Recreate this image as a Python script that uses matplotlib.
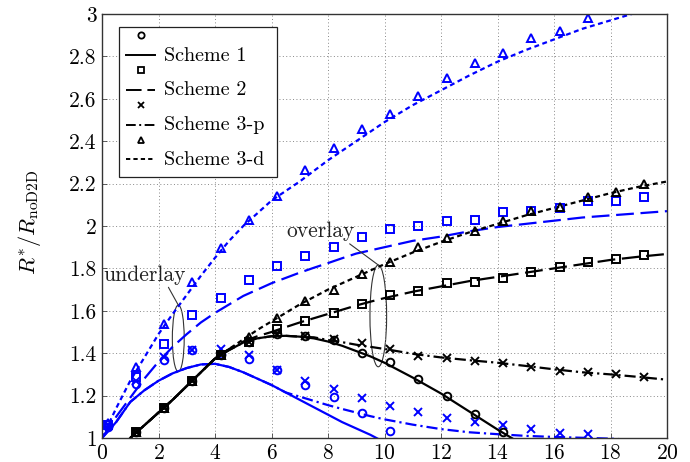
import numpy as np
import matplotlib
matplotlib.use("Agg")
import matplotlib.pyplot as plt
from matplotlib.lines import Line2D
from matplotlib.patches import Ellipse
from matplotlib.legend_handler import HandlerLine2D

plt.rcParams['font.family'] = 'serif'
plt.rcParams['font.serif'] = ['cmr10']
plt.rcParams['mathtext.fontset'] = 'cm'
plt.rcParams['axes.formatter.use_mathtext'] = True
plt.rcParams['axes.unicode_minus'] = False

nan = np.nan
BLUE = '#0000ff'

# theory curves (lines)
x_line = [0, 0.5, 1, 1.5, 2, 2.5, 3, 3.5, 4, 4.5, 5, 5.5, 6, 6.5, 7, 7.5, 8, 8.5, 9, 9.5, 10,
          11, 12, 13, 14, 15, 16, 17, 18, 19, 20]
blue_s1 = [1.0, 1.075, 1.17, 1.225, 1.27, 1.305, 1.33, 1.347, 1.35, 1.335, 1.31, 1.28, 1.25, 1.215,
           1.18, 1.145, 1.11, 1.075, 1.045, 1.015, 0.98,
           nan, nan, nan, nan, nan, nan, nan, nan, nan, nan]
blue_s2 = [1.0, 1.1, 1.19, 1.28, 1.36, 1.43, 1.49, 1.545, 1.59, 1.63, 1.67, 1.70, 1.73, 1.755,
           1.78, 1.803, 1.825, 1.848, 1.87, 1.885, 1.90,
           1.93, 1.95, 1.975, 1.995, 2.01, 2.025, 2.04, 2.05, 2.06, 2.07]
blue_s3p = [1.0, 1.075, 1.17, 1.225, 1.27, 1.305, 1.33, 1.347, 1.35, 1.335, 1.31, 1.28, 1.25, 1.215,
            1.195, 1.175, 1.155, 1.137, 1.12, 1.103, 1.088,
            1.063, 1.042, 1.027, 1.018, 1.01, 1.005, 1.001, 0.997, 0.99, 0.98]
blue_s3d = [1.0, 1.14, 1.27, 1.38, 1.49, 1.585, 1.675, 1.765, 1.85, 1.93, 2.0, 2.06, 2.12, 2.165,
            2.21, 2.26, 2.31, 2.355, 2.40, 2.445, 2.49,
            2.57, 2.64, 2.71, 2.775, 2.83, 2.88, 2.93, 2.97, 3.01, 3.05]
black_s1 = [nan, nan, 1.0, 1.06, 1.12, 1.18, 1.245, 1.31, 1.375, 1.415, 1.45, 1.47, 1.48, 1.482,
            1.478, 1.47, 1.455, 1.435, 1.41, 1.385, 1.355,
            1.285, 1.21, 1.125, 1.04, 0.96, nan, nan, nan, nan, nan]
black_s2 = [nan, nan, 1.0, 1.06, 1.12, 1.18, 1.245, 1.31, 1.375, 1.42, 1.455, 1.48, 1.50, 1.523,
            1.545, 1.565, 1.585, 1.605, 1.625, 1.643, 1.66,
            1.69, 1.715, 1.74, 1.76, 1.78, 1.80, 1.82, 1.84, 1.855, 1.868]
black_s3p = [nan, nan, 1.0, 1.06, 1.12, 1.18, 1.245, 1.31, 1.375, 1.415, 1.45, 1.47, 1.48, 1.482,
             1.478, 1.475, 1.462, 1.452, 1.44, 1.43, 1.42,
             1.397, 1.38, 1.367, 1.355, 1.34, 1.324, 1.31, 1.30, 1.288, 1.275]
black_s3d = [nan, nan, 1.0, 1.06, 1.12, 1.18, 1.245, 1.31, 1.375, 1.42, 1.465, 1.51, 1.55, 1.59,
             1.63, 1.665, 1.70, 1.73, 1.76, 1.79, 1.82,
             1.875, 1.925, 1.97, 2.01, 2.05, 2.085, 2.12, 2.155, 2.185, 2.21]

# simulation points (markers)
x_blue_sim = [0.2, 1.2, 2.2, 3.2, 4.2, 5.2, 6.2, 7.2, 8.2, 9.2, 10.2, 11.2, 12.2, 13.2,
              14.2, 15.2, 16.2, 17.2, 18.2, 19.2]
blue_sim_s1 = [1.05, 1.255, 1.37, 1.415, 1.396, 1.371, 1.32, 1.25, 1.195, 1.12, 1.033]
blue_sim_s2 = [1.06, 1.29, 1.443, 1.58, 1.66, 1.745, 1.81, 1.86, 1.90, 1.95, 1.986, 2.00, 2.024,
               2.03, 2.067, 2.07, 2.086, 2.12, 2.12, 2.135]
blue_sim_s3p = [1.06, 1.27, 1.38, 1.415, 1.42, 1.39, 1.32, 1.27, 1.23, 1.187, 1.152, 1.124, 1.093,
                1.077, 1.061, 1.041, 1.022, 1.019]
blue_sim_s3d = [1.07, 1.336, 1.54, 1.737, 1.898, 2.03, 2.14, 2.264, 2.369, 2.458, 2.53, 2.615,
                2.697, 2.77, 2.817, 2.885, 2.92, 2.983]

x_black_sim = [1.2, 2.2, 3.2, 4.2, 5.2, 6.2, 7.2, 8.2, 9.2, 10.2, 11.2, 12.2, 13.2, 14.2,
               15.2, 16.2, 17.2, 18.2, 19.2]
black_sim_s1 = [1.03, 1.14, 1.27, 1.39, 1.455, 1.49, 1.48, 1.46, 1.40, 1.36, 1.278, 1.20, 1.112, 1.027]
black_sim_s2 = [1.03, 1.14, 1.27, 1.39, 1.455, 1.513, 1.552, 1.59, 1.632, 1.675, 1.695, 1.73,
                1.734, 1.756, 1.783, 1.808, 1.832, 1.846, 1.862]
black_sim_s3p = [1.03, 1.14, 1.27, 1.39, 1.455, 1.49, 1.48, 1.466, 1.447, 1.42, 1.388, 1.376,
                 1.365, 1.355, 1.336, 1.318, 1.31, 1.302, 1.286]
black_sim_s3d = [1.03, 1.14, 1.27, 1.39, 1.478, 1.565, 1.646, 1.70, 1.774, 1.829, 1.90, 1.945,
                 1.978, 2.024, 2.07, 2.09, 2.138, 2.162, 2.20]

labels = ['Scheme 1', 'Scheme 2', 'Scheme 3-p', 'Scheme 3-d']
markers = ['o', 's', 'x', '^']
dash_styles = ['-', (0, (8, 3)), (0, (5, 1.8, 1, 1.8)), (0, (2.2, 1.6))]


class MarkerAboveLine(HandlerLine2D):
    # pgfplots style legend: marker drawn above the line sample
    def create_artists(self, legend, orig_handle, xdescent, ydescent, width, height, fontsize, trans):
        y_line = 0.27 * fontsize
        x0 = 0.3 * fontsize - xdescent
        x1 = width - xdescent
        line = Line2D([x0, x1], [y_line, y_line])
        self.update_prop(line, orig_handle, legend)
        line.set_marker('')
        mk = Line2D([(x0 + x1) / 2], [y_line + 0.98 * fontsize])
        self.update_prop(mk, orig_handle, legend)
        mk.set_linestyle('')
        line.set_transform(trans)
        mk.set_transform(trans)
        return [line, mk]


fig = plt.figure(figsize=(6.9, 4.62), dpi=100)
ax = fig.add_axes([102 / 690, 1 - 438 / 462, 565 / 690, 424 / 462])

lw = 1.6
ax.plot(x_line, blue_s1, color=BLUE, lw=lw, ls=dash_styles[0])
ax.plot(x_line, blue_s2, color=BLUE, lw=lw, ls=dash_styles[1])
ax.plot(x_line, blue_s3p, color=BLUE, lw=lw, ls=dash_styles[2])
ax.plot(x_line, blue_s3d, color=BLUE, lw=lw, ls=dash_styles[3])
ax.plot(x_line, black_s1, color='k', lw=lw, ls=dash_styles[0])
ax.plot(x_line, black_s2, color='k', lw=lw, ls=dash_styles[1])
ax.plot(x_line, black_s3p, color='k', lw=lw, ls=dash_styles[2])
ax.plot(x_line, black_s3d, color='k', lw=lw, ls=dash_styles[3])

blue_sims = [blue_sim_s1, blue_sim_s2, blue_sim_s3p, blue_sim_s3d]
black_sims = [black_sim_s1, black_sim_s2, black_sim_s3p, black_sim_s3d]
for ys, m in zip(blue_sims, markers):
    ax.plot(x_blue_sim[:len(ys)], ys, ls='', marker=m, ms=5.5 if m != 'x' else 6,
            mfc='none', mec=BLUE, mew=1.4)
for ys, m in zip(black_sims, markers):
    ax.plot(x_black_sim[:len(ys)], ys, ls='', marker=m, ms=5.5 if m != 'x' else 6,
            mfc='none', mec='k', mew=1.4)

# ellipses + annotations
ax.add_patch(Ellipse((2.70, 1.47), 0.42, 0.314, fill=False, ec='#333333', lw=0.8))
ax.add_patch(Ellipse((9.78, 1.576), 0.59, 0.48, fill=False, ec='#333333', lw=0.8))
ax.annotate('underlay', xy=(2.70, 1.627), xytext=(1.5, 1.77), ha='center', va='center',
            fontsize=15.5, color='#222222',
            arrowprops=dict(arrowstyle='-', lw=0.8, color='#333333', shrinkA=0, shrinkB=0,
                            relpos=(0.76, 0.1)))
ax.annotate('overlay', xy=(9.78, 1.816), xytext=(7.72, 1.975), ha='center', va='center',
            fontsize=15.5, color='#222222',
            arrowprops=dict(arrowstyle='-', lw=0.8, color='#333333', shrinkA=0, shrinkB=0,
                            relpos=(0.82, 0.15)))

ax.set_xlim(0, 20)
ax.set_ylim(1, 3)
ax.set_xticks(np.arange(0, 21, 2))
ax.set_yticks(np.round(np.arange(1, 3.01, 0.2), 1))
ax.set_yticklabels(['%g' % v for v in np.round(np.arange(1, 3.01, 0.2), 1)])
ax.grid(True, ls=(0, (1, 2.5)), color='#888888', lw=0.7)
ax.tick_params(direction='in', length=3.5, width=0.6, color='#444444', labelsize=15.5, pad=4)
for sp in ax.spines.values():
    sp.set_color('#333333')
    sp.set_linewidth(1.0)

ax.set_ylabel(r'$R^{*}/R_{\mathrm{noD2D}}$', fontsize=16)
ax.yaxis.set_label_coords(-0.104, 0.51)

handles = [Line2D([], [], color='k', lw=1.4, ls=s, marker=m, ms=4.5, mfc='none', mew=1.3)
           for s, m in zip(dash_styles, markers)]
leg = ax.legend(handles, labels, loc='upper left', bbox_to_anchor=(0.03, 0.5, 0.2796, 0.47),
                mode='expand', borderaxespad=0, fontsize=14.5,
                handler_map={Line2D: MarkerAboveLine()}, title=' ', title_fontsize=6.5,
                handleheight=2.2, labelspacing=0.05, borderpad=0.06, handlelength=1.75,
                handletextpad=0.45, fancybox=False, framealpha=1, edgecolor='#222222')
leg.get_frame().set_linewidth(0.9)

fig.savefig('out.png', dpi=100)
